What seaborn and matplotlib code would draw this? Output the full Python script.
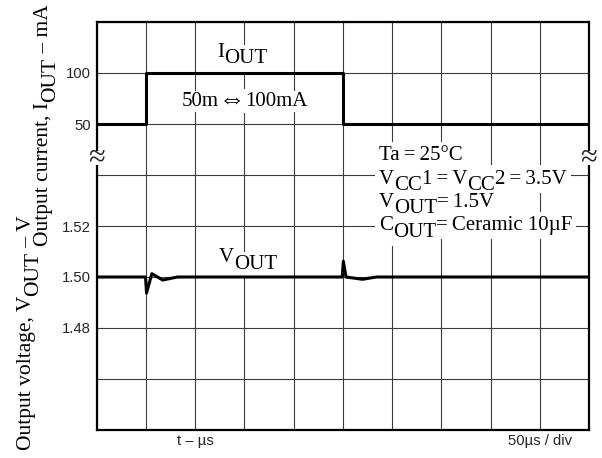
import numpy as np
import matplotlib
matplotlib.use("Agg")
import matplotlib.pyplot as plt
import matplotlib.text as mtext
from matplotlib.font_manager import FontProperties
from matplotlib.patches import Rectangle
import seaborn as sns

# Load transient: output current step and the output voltage response
time_i_us = [0, 50, 250, 500]
iout_ma = [50, 100, 50, 50]

time_v_us = [0, 49.6, 50.6, 56, 67, 82, 249.4, 250.5, 253.2, 270, 284, 500]
vout_v = [1.500, 1.500, 1.4937, 1.5013, 1.4988, 1.500,
          1.500, 1.5062, 1.500, 1.4991, 1.500, 1.500]

current_ticks = [50, 100]
voltage_ticks = [1.48, 1.50, 1.52]
time_ticks = list(range(0, 501, 50))

sns.set_style("white")
SERIF = ["Liberation Serif", "DejaVu Serif"]
SANS = ["Liberation Sans", "DejaVu Sans"]
plt.rcParams["font.family"] = SANS

W, H = 602, 458
fig = plt.figure(figsize=(W / 100, H / 100), dpi=100)
ax = fig.add_axes([96.7 / W, 28 / H, 492.3 / W, 408 / H])
ax2 = ax.twinx()

# voltage scale: 0.02 V / div, current scale: 50 mA / div (8 divisions total)
ax.set_xlim(0, 500)
ax.set_ylim(1.44, 1.60)
ax2.set_ylim(-250, 150)

GRID = "#3c3c3c"
TICK = "#262626"
ax.set_xticks(time_ticks)
ax.set_xticklabels([])
ax.set_yticks(voltage_ticks)
ax.set_yticklabels([f"{v:.2f}" for v in voltage_ticks])
ax.set_yticks(np.round(np.arange(1.44, 1.601, 0.02), 2), minor=True)
ax.grid(True, which="both", axis="both", color=GRID, lw=0.8)
ax.tick_params(which="both", length=0, pad=4.3, labelsize=10.7, labelcolor=TICK)
for s in ax.spines.values():
    s.set_linewidth(1.6)
    s.set_color("black")

ax2.set_yticks(current_ticks)
ax2.set_yticklabels([str(v) for v in current_ticks])
ax2.yaxis.tick_left()
ax2.tick_params(length=0, pad=4.3, labelsize=10.7, labelcolor=TICK)
ax2.grid(False)
for s in ax2.spines.values():
    s.set_visible(False)

# traces sit above the white label backdrops (zorder 6)
sns.lineplot(x=time_v_us, y=vout_v, ax=ax, color="black", lw=2.2,
             estimator=None, sort=False, zorder=6.5)
sns.lineplot(x=time_i_us, y=iout_ma, ax=ax2, color="black", lw=2.2,
             estimator=None, sort=False, drawstyle="steps-post")
ax.set_xlabel("")
ax.set_ylabel("")
ax2.set_ylabel("")

renderer = fig.canvas.get_renderer()


def _width_pt(s, prop):
    t = mtext.Text(0, 0, s, fontproperties=prop)
    t.set_figure(fig)
    return t.get_window_extent(renderer).width * 72 / fig.dpi


def rich(parts, xy, coords, size=15, rotation=0, center=False,
         backdrop=True, pad=3.0, family=SERIF):
    """Text made of pieces (text, baseline shift[, size]); shift > 0 lowers."""
    items = []
    for part in parts:
        s, shift = part[0], part[1]
        psize = part[2] if len(part) > 2 else size
        items.append((s, shift, FontProperties(family=family, size=psize)))
    pos, cur = [], 0.0
    for s, _, prop in items:
        pos.append(cur)
        cur += _width_pt("H" + s + "H", prop) - _width_pt("HH", prop)
    start = -cur / 2 if center else 0.0
    r = np.deg2rad(rotation)
    ux, uy = np.cos(r), np.sin(r)
    nx, ny = np.sin(r), -np.cos(r)
    layers = (0, 1) if backdrop else (1,)
    for layer in layers:
        for (s, shift, prop), p in zip(items, pos):
            d = start + p
            kw = dict(xy=xy, xycoords=coords,
                      xytext=(d * ux + shift * nx, d * uy + shift * ny),
                      textcoords="offset points", fontproperties=prop,
                      rotation=rotation, rotation_mode="anchor",
                      ha="left", va="baseline", annotation_clip=False)
            if layer == 0:
                ax.annotate(s, color="white", zorder=6,
                            bbox=dict(boxstyle=f"square,pad={pad / size:.3f}",
                                      fc="white", ec="none"), **kw)
            else:
                ax.annotate(s, color="black", zorder=7, **kw)


SUB = 4.8
TS = "\u2009"  # thin space around the equals signs
# curve labels
rich([("I", 0), ("OUT", SUB)], (0.2444, 0.915), "axes fraction")
rich([("50m", 0), ("⇔", 0.8, 19), ("100mA", 0)], (0.300, 0.794),
     "axes fraction", center=True, pad=0.5)
rich([("V", 0), ("OUT", SUB)], (0.2485, 0.412), "axes fraction", pad=2.0)

# test conditions
bx = 0.573
rich([(f"Ta{TS}={TS}25°C", 0)], (bx, 0.662), "axes fraction")
rich([("V", 0), ("CC", SUB), (f"1{TS}={TS}V", 0), ("CC", SUB),
      (f"2{TS}={TS}3.5V", 0)], (bx, 0.604), "axes fraction")
rich([("V", 0), ("OUT", SUB), (f"={TS}1.5V", 0)], (bx, 0.547), "axes fraction")
rich([("C", 0), ("OUT", SUB), (f"={TS}Ceramic 10µF", 0)], (bx, 0.490),
     "axes fraction")

# axis titles
rich([("Output voltage, V", 0), ("OUT", SUB), (" – V", 0)], (31, 8),
     "figure pixels", size=15.5, rotation=90, backdrop=False)
rich([("Output current, I", 0), ("OUT", SUB), (" – mA", 0)], (48, 212),
     "figure pixels", size=15.5, rotation=90, backdrop=False)

# time axis captions
ax.text(100, -0.027, "t – µs", transform=ax.get_xaxis_transform(),
        ha="center", va="center", fontsize=10.7, color=TICK)
ax.text(450, -0.027, "50µs / div", transform=ax.get_xaxis_transform(),
        ha="center", va="center", fontsize=10.7, color=TICK)

# scale break marks on both vertical axes
for xb in (0.0, 1.0):
    ax.add_patch(Rectangle((xb - 0.0183, 0.666 - 0.0172), 0.0366, 0.0344,
                           transform=ax.transAxes, fc="white", ec="none",
                           clip_on=False, zorder=8))
    ax.text(xb, 0.666, "≈", transform=ax.transAxes, ha="center", va="center",
            fontsize=22, family=SERIF, zorder=9, clip_on=False)

fig.savefig("out.png", dpi=100)
